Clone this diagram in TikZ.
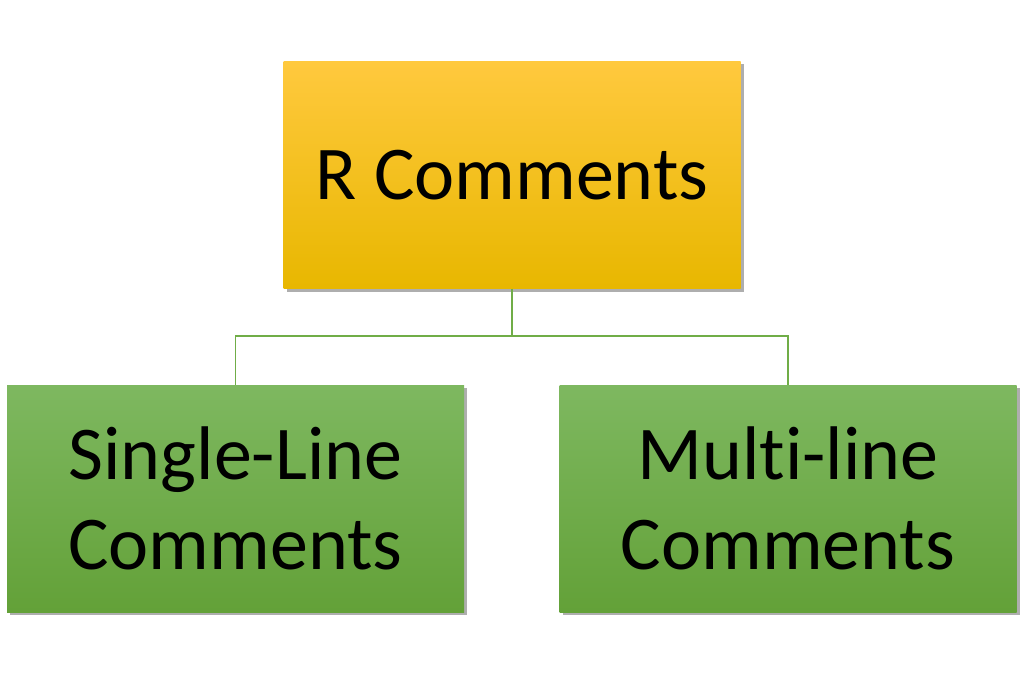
\documentclass[tikz,border=0pt]{standalone}
\usepackage{fontspec}
\setmainfont{Carlito}[Ligatures=NoCommon]
\usetikzlibrary{calc, positioning}
\usetikzlibrary{shadows}

\definecolor{gold top}{RGB}{255,201,62}
\definecolor{gold bot}{RGB}{232,183,0}
\definecolor{leaf top}{RGB}{126,184,96}
\definecolor{leaf bot}{RGB}{99,161,56}
\definecolor{wire}{RGB}{112,173,71}

\tikzset{
  box/.style={rectangle, inner sep=0pt, minimum width=457pt, minimum height=227pt,
    align=center, font=\fontsize{76}{90}\selectfont,
    drop shadow={shadow xshift=3pt, shadow yshift=-3pt, opacity=0.45, fill=black!70}},
  headbox/.style={box, top color=gold top, bottom color=gold bot},
  leafbox/.style={box, top color=leaf top, bottom color=leaf bot},
  link/.style={draw=wire, line width=1.8pt}
}

\begin{document}
\begin{tikzpicture}[x=1pt,y=1pt]
\def\W{1024}
\def\H{673}
\pgfmathsetmacro{\busy}{\H-336}
\useasboundingbox (0,0) rectangle (\W,\H);

% Boxes
\node[headbox] (head) at (512,498) {R Comments};
\node[leafbox] (single) at (235.5,174.5) {Single-Line\\Comments};
\node[leafbox] (multi) at (788,174.5) {Mult\kern0pt i-line\\Comments};

% Tree connector
\coordinate (bus) at (512,\busy);
\draw[link] (head.south) -- (bus);
\draw[link] (single.north) |- (bus) -| (multi.north);
\end{tikzpicture}
\end{document}
